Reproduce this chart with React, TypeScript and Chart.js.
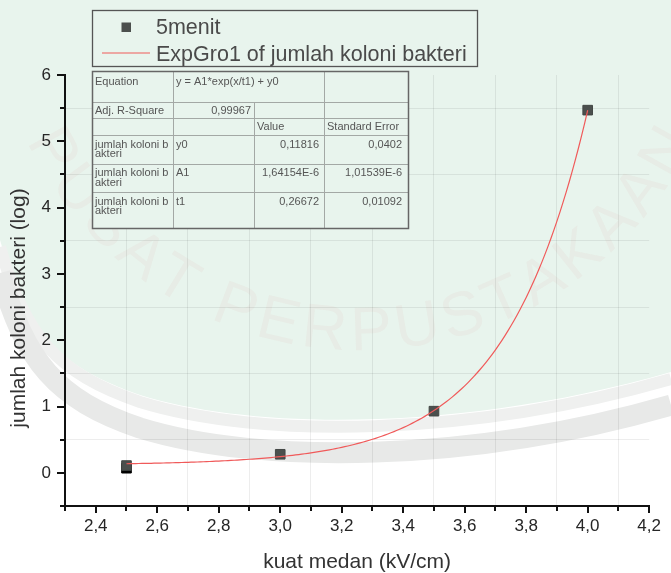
import React, { useEffect, useRef } from "react";
import { Chart, registerables } from "chart.js";

Chart.register(...registerables);

// Measured colony counts (log) after 5 minutes, per field strength
const kuatMedan = [2.5, 3.0, 3.5, 4.0];
const koloniLog = [0.11, 0.28, 0.93, 5.47];
// a second marker sitting just under the first one
const kuatMedanBawah = [2.5];
const koloniLogBawah = [0.07];

// ExpGro1 fit: y = A1*exp(x/t1) + y0
const fitY0 = 0.11816;
const fitA1 = 1.64154e-6;
const fitT1 = 0.26672;
const fitFrom = 2.5;
const fitTo = 4.0;
const fitStep = 0.01;

// axes
const xMin = 2.3;
const xMax = 4.2;
const xStep = 0.1;
const yMin = -0.5;
const yMax = 6;
const yStep = 0.5;

const xTitle = "kuat medan (kV/cm)";
const yTitle = "jumlah koloni bakteri (log)";

// legend
const seriesName = "5menit";
const fitName = "ExpGro1 of jumlah koloni bakteri";

// fit report table
const tableEquationLabel = "Equation";
const tableEquation = "y = A1*exp(x/t1) + y0";
const tableR2Label = "Adj. R-Square";
const tableR2 = "0,99967";
const tableHeaders = ["Value", "Standard Error"];
const tableRowLabel = ["jumlah koloni b", "akteri"];
const paramNames = ["y0", "A1", "t1"];
const paramValues = ["0,11816", "1,64154E-6", "0,26672"];
const paramErrors = ["0,0402", "1,01539E-6", "0,01092"];

const watermarkText = "PUSAT PERPUSTAKAAN";

const FONT = '"Liberation Sans", Arial, Helvetica, sans-serif';
const MARKER = "#4b4f4d";
const FIT_RED = "#f05a5a";
const MINT = "#e8f4ed";

const fitPoints: { x: number; y: number }[] = [];
for (let i = 0; fitFrom + i * fitStep <= fitTo + 1e-9; i++) {
  const x = fitFrom + i * fitStep;
  fitPoints.push({ x, y: fitA1 * Math.exp(x / fitT1) + fitY0 });
}

const fmtX = (v: number) => (Math.round(v * 10) / 10).toFixed(1).replace(".", ",");
const isEvenTenth = (v: number) => Math.round(v * 10) % 2 === 0;
const isWhole = (v: number) => Math.abs(v - Math.round(v)) < 1e-6;

// page backdrop: pale mint disc with grey rings and arched lettering
const backdrop = {
  id: "backdrop",
  beforeDraw(chart: any) {
    const { ctx, width, height } = chart;
    ctx.save();
    ctx.fillStyle = "#ffffff";
    ctx.fillRect(0, 0, width, height);

    const edge = (dy: number) => {
      ctx.beginPath();
      ctx.moveTo(0, 240 + dy);
      ctx.bezierCurveTo(25, 328 + dy, 55, 366 + dy, 140, 395 + dy);
      ctx.bezierCurveTo(260, 432 + dy, 470, 430 + dy, width, 372 + dy);
    };
    edge(0);
    ctx.lineTo(width, 0);
    ctx.lineTo(0, 0);
    ctx.closePath();
    ctx.fillStyle = MINT;
    ctx.fill();

    edge(7);
    ctx.strokeStyle = "#eff0ef";
    ctx.lineWidth = 12;
    ctx.stroke();

    edge(33);
    ctx.strokeStyle = "#e8e9e8";
    ctx.lineWidth = 21;
    ctx.stroke();

    // arched lettering
    const cx = 360, cy = -20, r = 370, spacing = 6;
    ctx.font = `62px ${FONT}`;
    ctx.fillStyle = "rgba(215, 110, 110, 0.055)";
    ctx.textAlign = "center";
    ctx.textBaseline = "alphabetic";
    const chars = [...watermarkText];
    const widths = chars.map((c) => ctx.measureText(c).width + spacing);
    const total = widths.reduce((a, b) => a + b, 0);
    let s = 0;
    chars.forEach((c, i) => {
      const mid = s + widths[i] / 2;
      const phi = Math.PI / 2 + (total / 2 - mid) / r;
      ctx.save();
      ctx.translate(cx + r * Math.cos(phi), cy + r * Math.sin(phi));
      ctx.rotate(phi - Math.PI / 2);
      ctx.fillText(c, 0, 0);
      ctx.restore();
      s += widths[i];
    });
    ctx.restore();
  },
};

// outward tick marks, long for labelled values and short in between
const tickMarks = {
  id: "tickMarks",
  afterDraw(chart: any) {
    const { ctx, chartArea, scales } = chart;
    ctx.save();
    ctx.strokeStyle = "#111";
    ctx.lineWidth = 2;
    ctx.beginPath();
    scales.x.ticks.forEach((t: any) => {
      const px = Math.round(scales.x.getPixelForValue(t.value));
      const len = isEvenTenth(t.value) ? 7 : 5;
      ctx.moveTo(px, chartArea.bottom);
      ctx.lineTo(px, chartArea.bottom + len);
    });
    scales.y.ticks.forEach((t: any) => {
      const py = Math.round(scales.y.getPixelForValue(t.value));
      const len = isWhole(t.value) ? 8 : 5;
      ctx.moveTo(chartArea.left, py);
      ctx.lineTo(chartArea.left - len, py);
    });
    ctx.stroke();

    // axis titles
    ctx.fillStyle = "#333";
    ctx.font = `21px ${FONT}`;
    ctx.textAlign = "center";
    ctx.textBaseline = "alphabetic";
    ctx.fillText(xTitle, (chartArea.left + chartArea.right) / 2, 568);
    ctx.save();
    ctx.translate(25, 308);
    ctx.rotate(-Math.PI / 2);
    ctx.fillText(yTitle, 0, 0);
    ctx.restore();
    ctx.restore();
  },
};

// legend box and fit report table
const annotations = {
  id: "annotations",
  afterDraw(chart: any) {
    const { ctx } = chart;
    ctx.save();

    // legend
    const lx = 92, ly = 10, lw = 385, lh = 56;
    ctx.fillStyle = MINT;
    ctx.fillRect(lx, ly, lw, lh);
    ctx.strokeStyle = "#555";
    ctx.lineWidth = 1.3;
    ctx.strokeRect(lx + 0.5, ly + 0.5, lw, lh);
    ctx.fillStyle = MARKER;
    ctx.fillRect(121.5, 22.5, 9.5, 9.5);
    ctx.strokeStyle = FIT_RED;
    ctx.lineWidth = 1.2;
    ctx.beginPath();
    ctx.moveTo(102, 53);
    ctx.lineTo(150, 53);
    ctx.stroke();
    ctx.fillStyle = "#4a4a4a";
    ctx.font = `21.5px ${FONT}`;
    ctx.textAlign = "left";
    ctx.textBaseline = "alphabetic";
    ctx.fillText(seriesName, 156, 34);
    ctx.fillText(fitName, 156, 61);

    // table
    const cols = [92, 173, 254, 324, 408];
    const rows = [71, 102, 118, 135, 163.5, 192, 228];
    const tl = cols[0], tr = cols[4], tt = rows[0], tb = rows[6];
    ctx.fillStyle = MINT;
    ctx.fillRect(tl, tt, tr - tl, tb - tt);
    ctx.strokeStyle = "#a3a8a5";
    ctx.lineWidth = 1;
    ctx.beginPath();
    for (let i = 1; i < rows.length - 1; i++) {
      ctx.moveTo(tl, Math.round(rows[i]) + 0.5);
      ctx.lineTo(tr, Math.round(rows[i]) + 0.5);
    }
    ctx.moveTo(cols[1] + 0.5, tt);
    ctx.lineTo(cols[1] + 0.5, tb);
    ctx.moveTo(cols[2] + 0.5, rows[1]);
    ctx.lineTo(cols[2] + 0.5, tb);
    ctx.moveTo(cols[3] + 0.5, tt);
    ctx.lineTo(cols[3] + 0.5, tb);
    ctx.stroke();
    ctx.strokeStyle = "#666";
    ctx.lineWidth = 1.5;
    ctx.strokeRect(tl + 0.5, tt + 0.5, tr - tl, tb - tt);

    ctx.fillStyle = "#555";
    ctx.font = `11px ${FONT}`;
    ctx.textAlign = "left";
    ctx.fillText(tableEquationLabel, 95, rows[0] + 14);
    ctx.fillText(tableEquation, 176, rows[0] + 14);
    ctx.fillText(tableR2Label, 95, rows[1] + 11.5);
    ctx.textAlign = "right";
    ctx.fillText(tableR2, cols[2] - 3, rows[1] + 11.5);
    ctx.textAlign = "left";
    ctx.fillText(tableHeaders[0], cols[2] + 3, rows[2] + 12);
    ctx.fillText(tableHeaders[1], cols[3] + 3, rows[2] + 12);
    for (let i = 0; i < paramNames.length; i++) {
      const top = rows[3 + i];
      ctx.textAlign = "left";
      ctx.fillText(tableRowLabel[0], 95, top + 12.5);
      ctx.fillText(tableRowLabel[1], 95, top + 22);
      ctx.fillText(paramNames[i], cols[1] + 3, top + 12.5);
      ctx.textAlign = "right";
      ctx.fillText(paramValues[i], cols[3] - 5, top + 12.5);
      ctx.fillText(paramErrors[i], cols[4] - 6, top + 12.5);
    }
    ctx.restore();
  },
};

export default function App() {
  const ref = useRef<HTMLCanvasElement>(null);

  useEffect(() => {
    const canvas = ref.current;
    if (!canvas) return;
    const chart = new Chart(canvas, {
      type: "scatter",
      data: {
        datasets: [
          {
            type: "line",
            label: fitName,
            data: fitPoints,
            borderColor: FIT_RED,
            borderWidth: 1.2,
            pointRadius: 0,
            fill: false,
            tension: 0,
            order: 0,
          },
          {
            label: seriesName,
            data: kuatMedan.map((x, i) => ({ x, y: koloniLog[i] })),
            pointStyle: "rect",
            pointRadius: 6.8,
            backgroundColor: MARKER,
            borderColor: "#434745",
            borderWidth: 1,
            order: 1,
          },
          {
            label: "",
            data: kuatMedanBawah.map((x, i) => ({ x, y: koloniLogBawah[i] })),
            pointStyle: "rect",
            pointRadius: 6.8,
            backgroundColor: "#000",
            borderColor: "#000",
            borderWidth: 1,
            order: 2,
          },
        ],
      },
      options: {
        animation: false,
        responsive: false,
        devicePixelRatio: 1,
        layout: { padding: { top: 75, right: 15, left: 0, bottom: 0 } },
        plugins: {
          legend: { display: false },
          tooltip: { enabled: false },
        },
        scales: {
          x: {
            type: "linear",
            min: xMin,
            max: xMax,
            afterFit: (s: any) => {
              s.height = 67;
            },
            border: { display: true, color: "#111", width: 2 },
            grid: {
              drawTicks: false,
              lineWidth: 1,
              color: (c: any) =>
                c.tick && !isEvenTenth(c.tick.value) && c.tick.value > xMin + 0.05
                  ? "rgba(0,0,0,0.07)"
                  : "rgba(0,0,0,0)",
            },
            ticks: {
              stepSize: xStep,
              autoSkip: false,
              maxRotation: 0,
              padding: 10,
              color: "#262626",
              font: { family: FONT, size: 17 },
              callback: (v: any) => (isEvenTenth(Number(v)) ? fmtX(Number(v)) : ""),
            },
          },
          y: {
            type: "linear",
            min: yMin,
            max: yMax,
            afterFit: (s: any) => {
              s.width = 65;
            },
            border: { display: true, color: "#111", width: 2 },
            grid: {
              drawTicks: false,
              lineWidth: 1,
              color: (c: any) =>
                c.tick && !isWhole(c.tick.value) && c.tick.value > yMin + 0.1
                  ? "rgba(0,0,0,0.07)"
                  : "rgba(0,0,0,0)",
            },
            ticks: {
              stepSize: yStep,
              autoSkip: false,
              padding: 14,
              color: "#262626",
              font: { family: FONT, size: 17 },
              callback: (v: any) => (isWhole(Number(v)) ? String(Math.round(Number(v))) : ""),
            },
          },
        },
      },
      plugins: [backdrop, tickMarks, annotations],
    } as any);
    return () => chart.destroy();
  }, []);

  return (
    <div
      style={{
        position: "fixed",
        left: 0,
        top: 0,
        width: 671,
        height: 573,
        background: "#fff",
      }}
    >
      <canvas ref={ref} width={671} height={573} style={{ display: "block", width: 671, height: 573 }} />
    </div>
  );
}
